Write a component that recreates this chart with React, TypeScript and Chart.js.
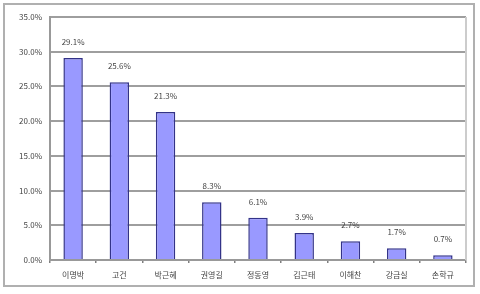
import React, { useEffect, useRef } from "react";
import { Chart, registerables } from "chart.js";

Chart.register(...registerables);

const categories = ["이명박", "고건", "박근혜", "권영길", "정동영", "김근태", "이해찬", "강금실", "손학규"];
const values = [29.1, 25.6, 21.3, 8.3, 6.1, 3.9, 2.7, 1.7, 0.7];
const valueLabels = ["29.1%", "25.6%", "21.3%", "8.3%", "6.1%", "3.9%", "2.7%", "1.7%", "0.7%"];
const yMax = 35;
const yStep = 5;

const FONT = "'Noto Sans CJK KR', 'Noto Sans', sans-serif";

const framePlugin = {
  id: "frame",
  beforeDraw(chart: any) {
    const ctx = chart.ctx;
    ctx.save();
    ctx.fillStyle = "#ffffff";
    ctx.fillRect(0, 0, chart.width, chart.height);
    ctx.strokeStyle = "#b0b0b0";
    ctx.lineWidth = 2;
    ctx.strokeRect(4, 4, 470, 282);
    ctx.restore();
  },
  afterDatasetsDraw(chart: any) {
    const ctx = chart.ctx;
    const { chartArea } = chart;
    ctx.save();
    ctx.strokeStyle = "#cccccc";
    ctx.lineWidth = 2;
    ctx.beginPath();
    ctx.moveTo(chartArea.right, chartArea.top);
    ctx.lineTo(chartArea.right, chartArea.bottom);
    ctx.stroke();
    const meta = chart.getDatasetMeta(0);
    ctx.fillStyle = "#444444";
    ctx.font = `8px ${FONT}`;
    ctx.textAlign = "center";
    ctx.textBaseline = "middle";
    meta.data.forEach((bar: any, i: number) => {
      ctx.fillText(valueLabels[i], bar.x, bar.y - 16);
    });
    ctx.restore();
  },
};

export default function App() {
  const ref = useRef<HTMLCanvasElement>(null);
  useEffect(() => {
    document.body.style.margin = "0";
    const chart = new Chart(ref.current!, {
      type: "bar",
      data: {
        labels: categories,
        datasets: [
          {
            data: values,
            backgroundColor: "#9999ff",
            borderColor: "#333388",
            borderWidth: { left: 1.5, right: 1.5, top: 1.5, bottom: 0 } as any,
            categoryPercentage: 1,
            barPercentage: 0.42,
          },
        ],
      },
      options: {
        responsive: false,
        animation: false,
        devicePixelRatio: 1,
        layout: { padding: { top: 17, right: 14, bottom: 6, left: 0 } },
        plugins: { legend: { display: false }, tooltip: { enabled: false } },
        scales: {
          x: {
            offset: true,
            grid: {
              offset: true,
              drawOnChartArea: false,
              tickLength: 3,
              color: "#808080",
              lineWidth: 1.5,
            },
            border: { color: "#999999", width: 2 },
            ticks: {
              font: { family: FONT, size: 8 },
              color: "#444444",
              padding: 7,
              maxRotation: 0,
              autoSkip: false,
            },
            afterFit(scale: any) {
              scale.height = 28;
            },
          },
          y: {
            min: 0,
            max: yMax,
            ticks: {
              stepSize: yStep,
              font: { family: FONT, size: 8 },
              color: "#444444",
              padding: 8,
              callback: (v: any) => Number(v).toFixed(1) + "%",
            },
            grid: { color: "#9e9e9e", lineWidth: 2, tickLength: 0 },
            border: { color: "#999999", width: 2 },
            afterFit(scale: any) {
              scale.width = 50;
            },
          },
        },
      },
      plugins: [framePlugin],
    });
    return () => chart.destroy();
  }, []);
  return (
    <div style={{ position: "absolute", left: 0, top: 0, width: 480, height: 294 }}>
      <canvas ref={ref} width={480} height={294} style={{ width: 480, height: 294 }} />
    </div>
  );
}
